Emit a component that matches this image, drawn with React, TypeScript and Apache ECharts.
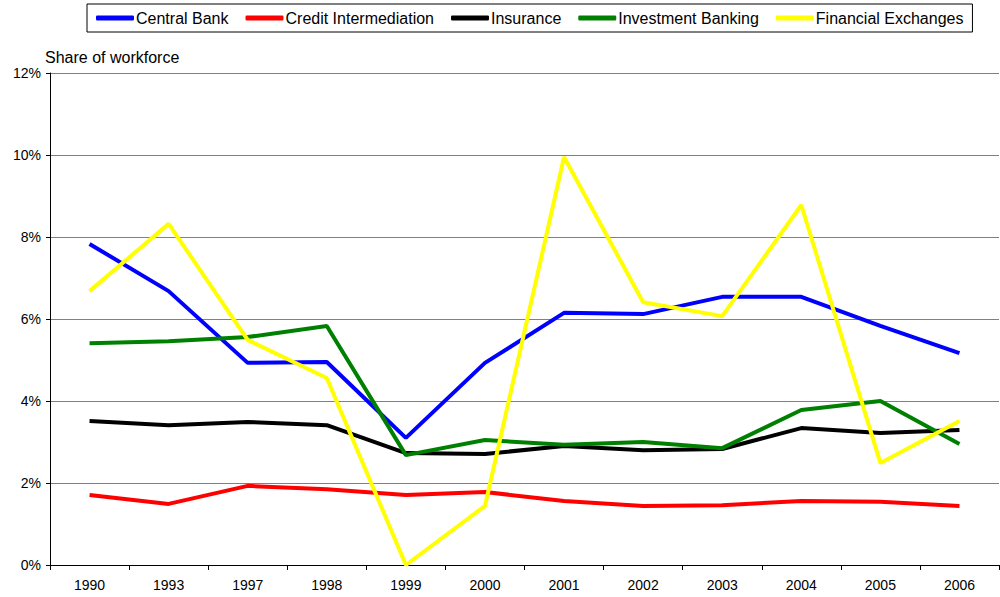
import React, { useEffect, useRef } from "react";
import * as echarts from "echarts";

const years = ["1990", "1993", "1997", "1998", "1999", "2000", "2001", "2002", "2003", "2004", "2005", "2006"];
const centralBank = [7.83, 6.68, 4.93, 4.95, 3.1, 4.93, 6.15, 6.12, 6.54, 6.54, 5.83, 5.17];
const creditIntermediation = [1.71, 1.49, 1.93, 1.85, 1.71, 1.78, 1.56, 1.44, 1.46, 1.56, 1.54, 1.44];
const insurance = [3.51, 3.41, 3.49, 3.41, 2.73, 2.71, 2.9, 2.8, 2.83, 3.34, 3.22, 3.29];
const investmentBanking = [5.41, 5.46, 5.56, 5.83, 2.68, 3.05, 2.93, 3.0, 2.85, 3.78, 4.0, 2.95];
const financialExchanges = [6.68, 8.32, 5.49, 4.56, 0, 1.44, 9.95, 6.41, 6.07, 8.78, 2.49, 3.51];

const seriesDefs = [
  { name: "Central Bank", data: centralBank, color: "#0000FF" },
  { name: "Credit Intermediation", data: creditIntermediation, color: "#FF0000" },
  { name: "Insurance", data: insurance, color: "#000000" },
  { name: "Investment Banking", data: investmentBanking, color: "#008000" },
  { name: "Financial Exchanges", data: financialExchanges, color: "#FFFF00" },
];

const FONT = "'Liberation Sans', Arial, sans-serif";

export default function App() {
  const ref = useRef<HTMLDivElement>(null);
  useEffect(() => {
    if (!ref.current) return;
    const chart = echarts.init(ref.current, undefined, { renderer: "svg" });
    chart.setOption({
      animation: false,
      backgroundColor: "#ffffff",
      textStyle: { fontFamily: FONT },
      legend: {
        left: 87,
        top: 4,
        padding: [6, 9, 6, 9],
        itemGap: 17,
        itemWidth: 38,
        itemHeight: 5,
        borderColor: "#000000",
        borderWidth: 1,
        backgroundColor: "#ffffff",
        icon: "roundRect",
        textStyle: { fontFamily: FONT, fontSize: 16, color: "#000000", padding: [0, 0, 0, -3] },
        data: seriesDefs.map((s) => s.name),
      },
      grid: { left: 50, right: 1, top: 73, bottom: 32, containLabel: false },
      xAxis: {
        type: "category",
        data: years,
        boundaryGap: true,
        axisLine: { lineStyle: { color: "#000000", width: 1 } },
        axisTick: { show: true, length: 5, lineStyle: { color: "#000000" } },
        axisLabel: { fontFamily: FONT, fontSize: 14, color: "#000000", margin: 13 },
      },
      yAxis: {
        type: "value",
        min: 0,
        max: 12,
        interval: 2,
        name: "Share of workforce",
        nameLocation: "end",
        nameGap: 8,
        nameTextStyle: { fontFamily: FONT, fontSize: 16, color: "#000000", align: "left", padding: [0, 0, 0, -5] },
        axisLine: { show: true, lineStyle: { color: "#000000", width: 1 } },
        axisTick: { show: true, length: 4, lineStyle: { color: "#000000" } },
        axisLabel: { fontFamily: FONT, fontSize: 14, color: "#000000", margin: 9, formatter: "{value}%" },
        splitLine: { show: true, lineStyle: { color: "#808080", width: 1 } },
      },
      series: seriesDefs.map((s) => ({
        name: s.name,
        type: "line",
        data: s.data,
        color: s.color,
        symbol: "none",
        lineStyle: { color: s.color, width: 4 },
      })),
    });
    return () => chart.dispose();
  }, []);
  return <div ref={ref} style={{ position: "absolute", left: 0, top: 0, width: 1000, height: 597 }} />;
}
